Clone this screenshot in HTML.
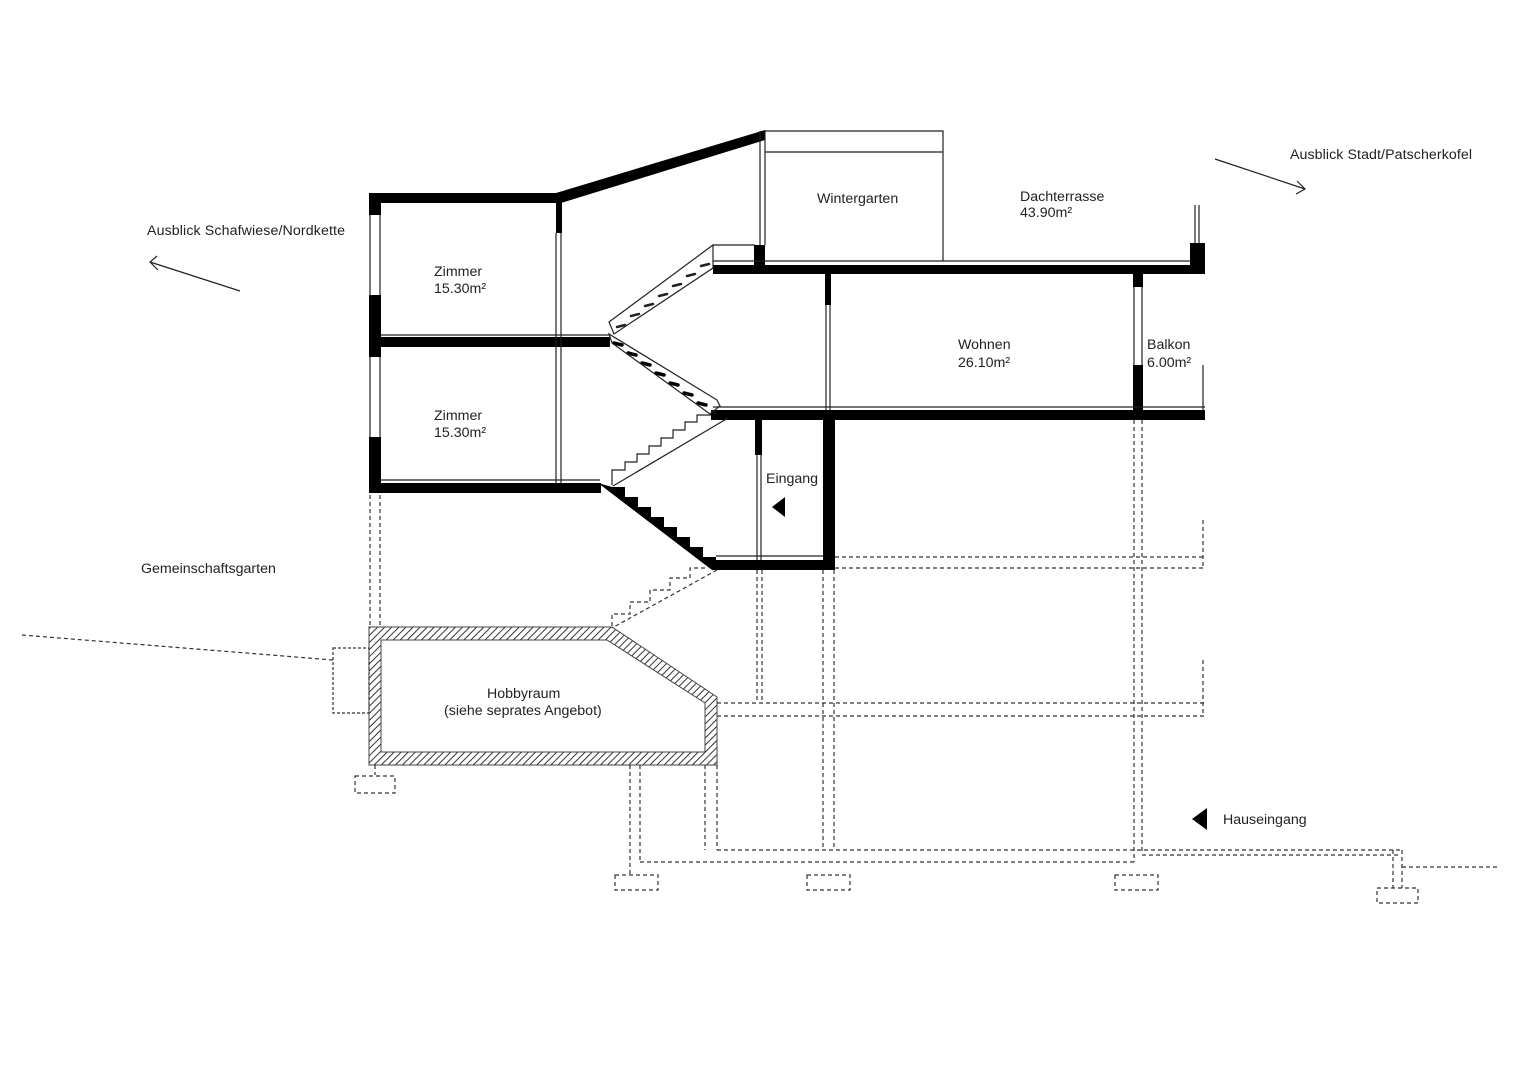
<!DOCTYPE html>
<html><head><meta charset="utf-8"><style>
html,body{margin:0;padding:0;background:#fff}
svg{display:block}
text{font-family:"Liberation Sans",sans-serif;font-size:14.2px;fill:#222}
</style></head><body>
<svg width="1528" height="1080" viewBox="0 0 1528 1080" xmlns="http://www.w3.org/2000/svg">
<defs>
<pattern id="h" patternUnits="userSpaceOnUse" width="5" height="5" patternTransform="rotate(45)">
<rect width="5" height="5" fill="#fff"/><line x1="0" y1="0" x2="0" y2="5" stroke="#333" stroke-width="2"/>
</pattern>
</defs>
<g fill="#000" stroke="none">
<rect x="369" y="193" width="12" height="22"/>
<rect x="369" y="295" width="12" height="62"/>
<rect x="369" y="437" width="12" height="56"/>
<rect x="369" y="193" width="192" height="10"/>
<polygon points="556,193 765,130 765,140 561,203"/>
<rect x="556" y="200" width="6" height="33"/>
<rect x="369" y="337" width="241" height="10"/>
<rect x="369" y="483" width="232" height="10"/>
<polygon points="598,483 612,487 625,487 625,497 638,497 638,507 651,507 651,517 664,517 664,527 677,527 677,537 690,537 690,547 703,547 703,557 716,557 716,570 712,570"/>
<rect x="713" y="265" width="492" height="9"/>
<rect x="1190" y="243" width="15" height="31"/>
<rect x="754" y="245" width="11" height="22"/>
<rect x="825" y="273" width="6" height="32"/>
<rect x="1133" y="273" width="10" height="14"/>
<rect x="1133" y="365" width="10" height="53"/>
<rect x="711" y="410" width="494" height="10"/>
<rect x="755" y="420" width="7" height="35"/>
<rect x="823" y="420" width="12" height="150"/>
<rect x="712" y="560" width="123" height="10"/>
<polygon points="785,497 785,517 772,507"/>
<polygon points="1207,808 1207,830 1192,819"/>
</g>
<!-- treads -->
<g stroke="#222" stroke-width="2.5" stroke-linecap="round">
<line x1="617" y1="327" x2="625" y2="325"/>
<line x1="631" y1="316" x2="639" y2="314"/>
<line x1="645" y1="306" x2="653" y2="304"/>
<line x1="659" y1="296" x2="667" y2="294"/>
<line x1="673" y1="286" x2="681" y2="284"/>
<line x1="687" y1="276" x2="695" y2="274"/>
<line x1="701" y1="266" x2="709" y2="264"/>
</g>
<g stroke="#000" stroke-width="3.5" stroke-linecap="round">
<line x1="614" y1="343" x2="622" y2="345"/>
<line x1="628" y1="353" x2="636" y2="355"/>
<line x1="642" y1="363" x2="650" y2="365"/>
<line x1="656" y1="373" x2="664" y2="375"/>
<line x1="670" y1="383" x2="678" y2="385"/>
<line x1="684" y1="393" x2="692" y2="395"/>
<line x1="698" y1="403" x2="706" y2="405"/>
</g>
<g fill="none" stroke="#222" stroke-width="1.2">
<line x1="370" y1="215" x2="370" y2="295"/><line x1="380" y1="215" x2="380" y2="295"/>
<line x1="370" y1="357" x2="370" y2="437"/><line x1="380" y1="357" x2="380" y2="437"/>
<line x1="556" y1="233" x2="556" y2="483"/><line x1="561" y1="233" x2="561" y2="483"/>
<line x1="381" y1="335" x2="610" y2="335"/>
<line x1="381" y1="480" x2="600" y2="480"/>
<polygon points="609,322 713,245 713,268 614,334"/>
<polygon points="609,334 612,343 710,414 720,406 717,400"/>
<polyline points="612,485 612,470 625,470 625,462 637,462 637,454 649,454 649,446 661,446 661,438 673,438 673,430 685,430 685,422 697,422 697,415 711,415"/>
<line x1="613" y1="486" x2="728" y2="418"/>
<line x1="713" y1="245" x2="755" y2="245"/>
<line x1="713" y1="261" x2="1190" y2="261"/>
<polyline points="765,245 765,131 943,131 943,261"/>
<line x1="765" y1="152" x2="943" y2="152"/>
<line x1="760" y1="131" x2="760" y2="245"/>
<line x1="1195" y1="205" x2="1195" y2="243"/><line x1="1199" y1="205" x2="1199" y2="243"/>
<line x1="826" y1="305" x2="826" y2="410"/><line x1="830" y1="305" x2="830" y2="410"/>
<line x1="1134" y1="287" x2="1134" y2="365"/><line x1="1142" y1="287" x2="1142" y2="365"/>
<line x1="713" y1="407" x2="1205" y2="407"/>
<line x1="1203" y1="365" x2="1203" y2="410"/>
<line x1="757" y1="455" x2="757" y2="560"/><line x1="761" y1="455" x2="761" y2="560"/>
<line x1="716" y1="556" x2="823" y2="556"/>
<line x1="240" y1="291" x2="150" y2="262"/><polyline points="157,256 150,262 158,270"/>
<line x1="1215" y1="159" x2="1305" y2="189"/><polyline points="1297,181 1305,189 1296,194"/>
</g>
<path d="M369,627 H612 L717,697 V765 H369 Z M381,640 V752 H705 V703 L607,640 Z" fill="url(#h)" fill-rule="evenodd" stroke="#444" stroke-width="1"/>
<rect x="333" y="648" width="36" height="65" fill="none" stroke="#333" stroke-width="1.2" stroke-dasharray="3,2"/>
<g fill="none" stroke="#333" stroke-width="1.2" stroke-dasharray="4,3">
<line x1="370" y1="495" x2="370" y2="627"/><line x1="380" y1="495" x2="380" y2="627"/>
<line x1="22" y1="635" x2="333" y2="660"/>
<line x1="375" y1="765" x2="375" y2="775"/>
<rect x="355" y="776" width="40" height="17"/>
<line x1="717" y1="570" x2="612" y2="628"/>
<polyline points="705,568 690,568 690,578 670,578 670,590 650,590 650,602 630,602 630,614 612,614 612,628"/>
<line x1="757" y1="570" x2="757" y2="703"/><line x1="762" y1="570" x2="762" y2="703"/>
<line x1="823" y1="570" x2="823" y2="850"/><line x1="834" y1="570" x2="834" y2="850"/>
<line x1="1134" y1="420" x2="1134" y2="862"/><line x1="1142" y1="420" x2="1142" y2="852"/>
<line x1="630" y1="765" x2="630" y2="875"/><line x1="640" y1="765" x2="640" y2="862"/>
<line x1="705" y1="765" x2="705" y2="850"/><line x1="717" y1="765" x2="717" y2="850"/>
<line x1="835" y1="557" x2="1205" y2="557"/><line x1="835" y1="568" x2="1205" y2="568"/>
<line x1="717" y1="703" x2="1205" y2="703"/><line x1="717" y1="716" x2="1205" y2="716"/>
<line x1="717" y1="850" x2="1400" y2="850"/><line x1="640" y1="862" x2="1134" y2="862"/>
<line x1="1142" y1="855" x2="1400" y2="855"/>
<line x1="1402" y1="867" x2="1500" y2="867"/>
<line x1="1203" y1="520" x2="1203" y2="568"/>
<line x1="1203" y1="660" x2="1203" y2="716"/>
<line x1="1393" y1="850" x2="1393" y2="888"/><line x1="1402" y1="850" x2="1402" y2="888"/>
<rect x="615" y="875" width="43" height="15"/>
<rect x="807" y="875" width="43" height="15"/>
<rect x="1115" y="875" width="43" height="15"/>
<rect x="1377" y="888" width="41" height="15"/>
</g>
<text x="147" y="235" textLength="198">Ausblick Schafwiese/Nordkette</text>
<text x="1290" y="159" textLength="182">Ausblick Stadt/Patscherkofel</text>
<text x="817" y="203">Wintergarten</text>
<text x="1020" y="201">Dachterrasse</text>
<text x="1020" y="217">43.90m²</text>
<text x="434" y="276">Zimmer</text>
<text x="434" y="293">15.30m²</text>
<text x="434" y="420">Zimmer</text>
<text x="434" y="437">15.30m²</text>
<text x="958" y="349">Wohnen</text>
<text x="958" y="367">26.10m²</text>
<text x="1147" y="349">Balkon</text>
<text x="1147" y="367">6.00m²</text>
<text x="766" y="483">Eingang</text>
<text x="141" y="573">Gemeinschaftsgarten</text>
<text x="487" y="698">Hobbyraum</text>
<text x="444" y="715">(siehe seprates Angebot)</text>
<text x="1223" y="824">Hauseingang</text>
</svg>
</body></html>
